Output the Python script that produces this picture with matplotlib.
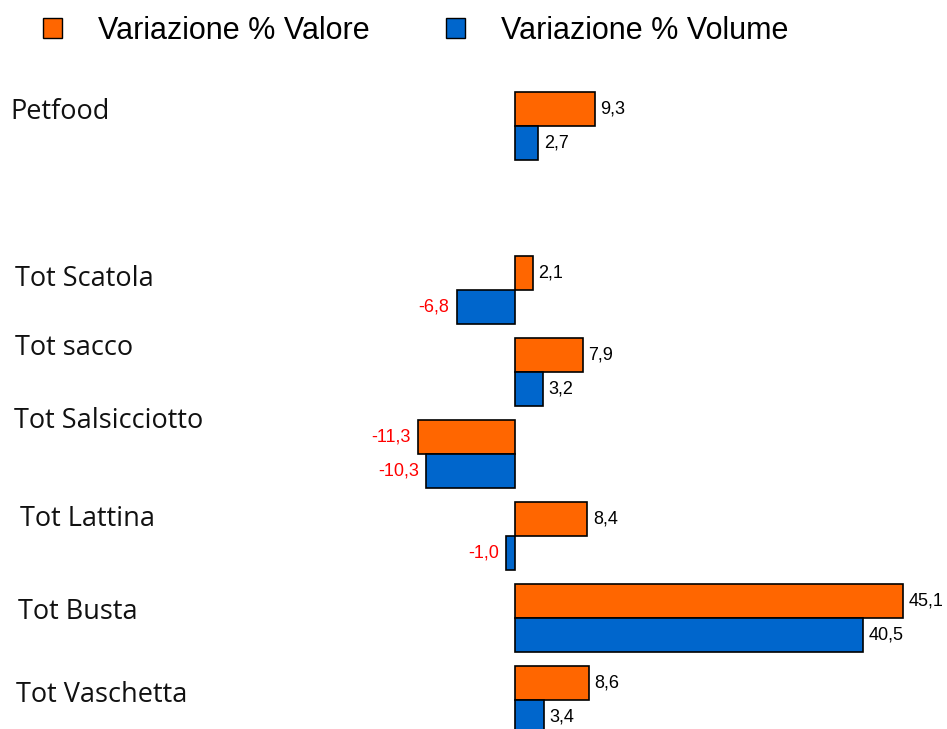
import numpy as np
import matplotlib.pyplot as plt
from matplotlib.patches import Patch

categories = ['Petfood', 'Tot Scatola', 'Tot sacco', 'Tot Salsicciotto',
              'Tot Lattina', 'Tot Busta', 'Tot Vaschetta']
valore = [9.3, 2.1, 7.9, -11.3, 8.4, 45.1, 8.6]
volume = [2.7, -6.8, 3.2, -10.3, -1.0, 40.5, 3.4]
# group slots: Petfood stands apart, one empty slot after it
slots = [0, 2, 3, 4, 5, 6, 7]

# hand placement of the category labels (pixels)
label_x = [10, 15, 15, 14, 20, 18, 16]
label_dy = [-14, -11, -24, -33, -17, -6, -5]

orange = '#FF6600'
blue = '#0066CC'

W, H = 947, 729
fig = plt.figure(figsize=(W / 100, H / 100), dpi=100)
ax = fig.add_axes([0, 0, 1, 1])

px = 8.6      # pixels per unit on x
zero_x = 515
slot_px = 82
top_px = 126
bh = 34 / slot_px

ax.set_xlim(-zero_x / px, (W - zero_x) / px)
ax.set_ylim((H - top_px) / slot_px, -top_px / slot_px)
ax.axis('off')

y = np.array(slots, dtype=float)
ax.barh(y - bh / 2, valore, height=bh, color=orange, edgecolor='black', linewidth=1.2)
ax.barh(y + bh / 2, volume, height=bh, color=blue, edgecolor='black', linewidth=1.2)


def fmt(v):
    return f'{v:.1f}'.replace('.', ',')


for yy, vals in ((y - bh / 2, valore), (y + bh / 2, volume)):
    for yi, v in zip(yy, vals):
        if v >= 0:
            ax.annotate(fmt(v), (v, yi), xytext=(4, 0), textcoords='offset points',
                        ha='left', va='center', fontsize=13, color='black',
                        family='Liberation Sans')
        else:
            ax.annotate(fmt(v), (v, yi), xytext=(-5, 0), textcoords='offset points',
                        ha='right', va='center', fontsize=13, color='#FF0000',
                        family='Liberation Sans')

for name, s, lx, dy in zip(categories, slots, label_x, label_dy):
    cy = top_px + s * slot_px + dy
    fig.text(lx / W, 1 - cy / H, name, ha='left', va='center', fontsize=19.5,
             family='Open Sans', color='#111111')

handles = [Patch(facecolor=orange, edgecolor='black'),
           Patch(facecolor=blue, edgecolor='black')]
fig.legend(handles, ['Variazione % Valore', 'Variazione % Volume'],
           loc='center left', bbox_to_anchor=(43 / W, 1 - 31 / H), ncol=2,
           frameon=False, prop={'family': 'Liberation Sans', 'size': 22},
           handlelength=0.62, handleheight=0.62, handletextpad=1.18,
           columnspacing=2.5, borderpad=0, borderaxespad=0)

fig.savefig('out.png', dpi=100)
